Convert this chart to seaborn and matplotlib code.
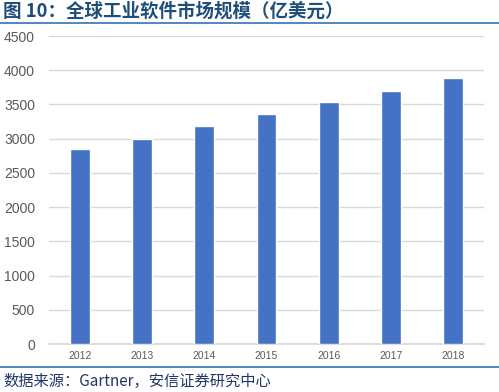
import matplotlib.pyplot as plt
import seaborn as sns
import pandas as pd
from matplotlib.lines import Line2D

years = ["2012", "2013", "2014", "2015", "2016", "2017", "2018"]
market = [2850, 3000, 3180, 3365, 3535, 3700, 3890]
yticks = [0, 500, 1000, 1500, 2000, 2500, 3000, 3500, 4000, 4500]

sns.set_theme(style="white")
plt.rcParams['font.family'] = ['Noto Sans CJK SC', 'DejaVu Sans']

df = pd.DataFrame({"year": years, "value": market})

fig = plt.figure(figsize=(4.99, 3.92), dpi=100)
ax = fig.add_axes([49 / 499, 1 - 344 / 392, 435 / 499, 308 / 392])

sns.barplot(data=df, x="year", y="value", color="#4472C4", saturation=1,
            width=0.32, ax=ax, zorder=3)

ax.set_ylim(0, 4500)
ax.set_yticks(yticks)
ax.set_xlim(-0.5, 6.5)
ax.grid(axis="y", color="#D9D9D9", linewidth=1, zorder=0)
for s in ["top", "right", "left"]:
    ax.spines[s].set_visible(False)
ax.spines["bottom"].set_color("#D9D9D9")
ax.set_xlabel("")
ax.set_ylabel("")
ax.tick_params(axis="y", labelsize=10, colors="#595959", length=0, pad=10,
               labelfontfamily="Liberation Sans")
ax.tick_params(axis="x", labelsize=7.5, colors="#595959", length=0, pad=5,
               labelfontfamily="Liberation Sans")

# title and footer
fig.text(3 / 499, 1 - 11 / 392, "图 10：全球工业软件市场规模（亿美元）", fontsize=13.3,
         fontweight="bold", color="#1F4E79", va="center", ha="left")
fig.add_artist(Line2D([0, 1], [1 - 23 / 392] * 2, color="#2E75B6", linewidth=1.2))
fig.add_artist(Line2D([0, 1], [1 - 367 / 392] * 2, color="#2E75B6", linewidth=1.2))
fig.text(3 / 499, 1 - 381 / 392, "数据来源：Gartner，安信证券研究中心", fontsize=11,
         color="#1F3864", va="center", ha="left", style="italic")

fig.savefig("out.png", dpi=100)
